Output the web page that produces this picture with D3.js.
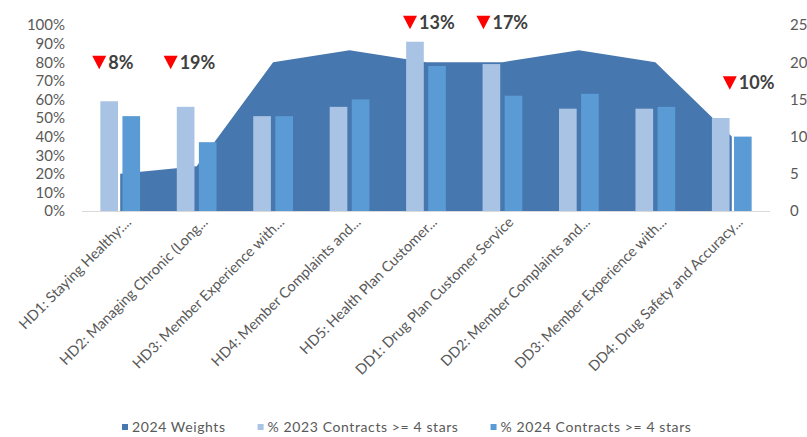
<!DOCTYPE html>
<html>
<head>
<meta charset="utf-8">
<script src="https://cdn.jsdelivr.net/npm/d3@7"></script>
<style>
  html, body { margin: 0; padding: 0; background: #ffffff; }
  svg { display: block; font-family: Lato, "Open Sans", sans-serif; }
</style>
</head>
<body>
<svg id="chart" width="807" height="437"></svg>
<script>
// Star-measure domains
const categories = [
  "HD1: Staying Healthy:...",
  "HD2: Managing Chronic (Long...",
  "HD3: Member Experience with...",
  "HD4: Member Complaints and...",
  "HD5: Health Plan Customer...",
  "DD1: Drug Plan Customer Service",
  "DD2: Member Complaints and...",
  "DD3: Member Experience with...",
  "DD4: Drug Safety and Accuracy..."
];

// 2024 domain weights (right axis)
const weights2024 = [5, 6, 20, 21.6, 20, 20, 21.6, 20, 10];

// Share of contracts at 4+ stars (left axis, %)
const pct2023 = [59, 56, 51, 56, 91, 79, 55, 55, 50];
const pct2024 = [51, 37, 51, 60, 78, 62, 63, 56, 40];

// Drop callouts
const dropCategories = [0, 1, 4, 5, 8];
const dropLabels = ["8%", "19%", "13%", "17%", "10%"];

const leftTicks = [0, 10, 20, 30, 40, 50, 60, 70, 80, 90, 100];
const rightTicks = [0, 5, 10, 15, 20, 25];

const seriesNames = ["2024 Weights", "% 2023 Contracts >= 4 stars", "% 2024 Contracts >= 4 stars"];
const colors = { area: "#4677ae", light: "#a9c3e5", mid: "#5b9bd5" };

const svg = d3.select("#chart");
const plot = { left: 82, right: 770, top: 25, bottom: 211 };

const x = d3.scaleBand().domain(d3.range(categories.length)).range([plot.left, plot.right]);
const yL = d3.scaleLinear().domain([0, 100]).range([plot.bottom, plot.top]);
const yR = d3.scaleLinear().domain([0, 25]).range([plot.bottom, plot.top]);
const cx = i => x(i) + x.bandwidth() / 2;

const groupHalf = x.bandwidth() * 0.26;
const xSub = d3.scaleBand().domain([0, 1]).range([-groupHalf, groupHalf]).paddingInner(0.2);

// Weights area (behind the bars)
const area = d3.area()
  .x((d, i) => cx(i))
  .y0(yR(0))
  .y1(d => yR(d));
svg.append("path").datum(weights2024).attr("d", area).attr("fill", colors.area);

// Baseline
svg.append("line")
  .attr("x1", plot.left).attr("x2", plot.right)
  .attr("y1", plot.bottom + 0.5).attr("y2", plot.bottom + 0.5)
  .attr("stroke", "#d9d9d9").attr("stroke-width", 1);

// Bars
[[pct2023, colors.light], [pct2024, colors.mid]].forEach(([vals, col], s) => {
  svg.append("g").selectAll("rect").data(vals).join("rect")
    .attr("x", (d, i) => cx(i) + xSub(s))
    .attr("width", xSub.bandwidth())
    .attr("y", d => yL(d))
    .attr("height", d => yL(0) - yL(d))
    .attr("fill", col);
});

// Axes
const axisText = g => g.selectAll("text")
  .attr("fill", "#595959")
  .style("font-size", "15px")
  .style("font-family", "Lato, sans-serif");
svg.append("g").attr("transform", `translate(${plot.left},0)`)
  .call(d3.axisLeft(yL).tickValues(leftTicks).tickFormat(d => d + "%").tickSize(0).tickPadding(17))
  .call(g => g.select(".domain").remove())
  .call(axisText);
svg.append("g").attr("transform", `translate(${plot.right},0)`)
  .call(d3.axisRight(yR).tickValues(rightTicks).tickSize(0).tickPadding(20))
  .call(g => g.select(".domain").remove())
  .call(axisText);

// Category labels
svg.append("g").selectAll("text").data(categories).join("text")
  .attr("transform", (d, i) => `translate(${cx(i) + 12},${plot.bottom + 12}) rotate(-45)`)
  .attr("text-anchor", "end")
  .attr("fill", "#595959")
  .style("font-size", "14.5px")
  .text(d => d);

// Drop callouts: red triangle + bold label
const calloutPlacement = [
  { dx: -28, level: 80 },
  { dx: -33, level: 80 },
  { dx: -23, level: 101.5 },
  { dx: -26, level: 101.5 },
  { dx: -9, level: 69 }
];
const callouts = svg.append("g");
dropCategories.forEach((ci, k) => {
  const p = calloutPlacement[k];
  const x0 = cx(ci) + p.dx;
  const yc = yL(p.level);
  callouts.append("path")
    .attr("d", `M${x0},${yc - 6.5}L${x0 + 14},${yc - 6.5}L${x0 + 7},${yc + 7}Z`)
    .attr("fill", "#ff0000");
  callouts.append("text")
    .attr("x", x0 + 16).attr("y", yc)
    .attr("dy", "0.36em")
    .attr("fill", "#404040")
    .style("font-size", "18px").style("font-weight", "bold")
    .text(dropLabels[k]);
});

// Legend
const legendColors = [colors.area, colors.light, colors.mid];
const legend = svg.append("g");
let lx = 122;
const ly = 427;
seriesNames.forEach((name, i) => {
  legend.append("rect").attr("x", lx).attr("y", ly - 3).attr("width", 6).attr("height", 6)
    .attr("fill", legendColors[i]);
  const t = legend.append("text").attr("x", lx + 10).attr("y", ly).attr("dy", "0.35em")
    .attr("fill", "#595959").style("font-size", "14px").style("letter-spacing", "0.6px")
    .text(name);
  lx += 10 + t.node().getComputedTextLength() + 32;
});
</script>
</body>
</html>
